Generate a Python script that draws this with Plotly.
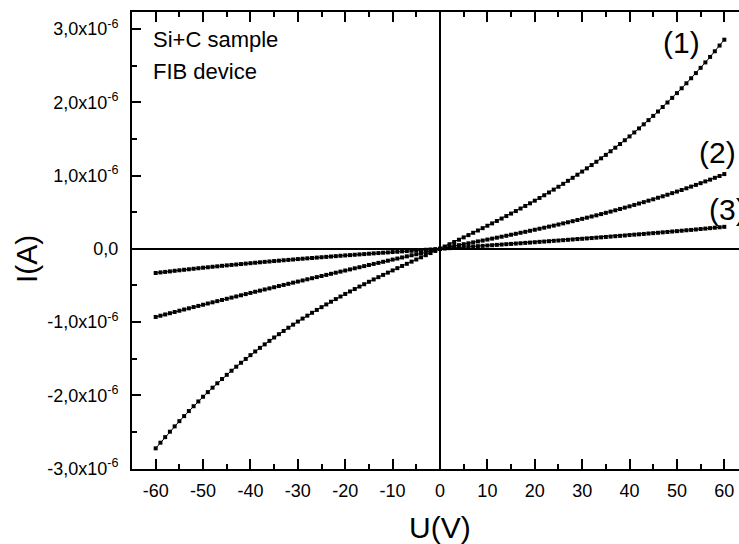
import plotly.graph_objects as go

# Bias voltage sweep (V)
U_volts = list(range(-60, 61))

# Currents in microamps (-60 V ... +60 V, step 1 V)
I1_uA = [
    -2.723, -2.646, -2.570, -2.496, -2.423, -2.352, -2.283, -2.214, -2.148, -2.083,
    -2.019, -1.956, -1.895, -1.835, -1.777, -1.720, -1.664, -1.609, -1.555, -1.503,
    -1.451, -1.401, -1.352, -1.304, -1.256, -1.210, -1.165, -1.121, -1.077, -1.035,
    -0.993, -0.952, -0.912, -0.873, -0.834, -0.796, -0.759, -0.722, -0.686, -0.651,
    -0.616, -0.582, -0.549, -0.515, -0.483, -0.450, -0.418, -0.387, -0.356, -0.325,
    -0.295, -0.264, -0.234, -0.205, -0.175, -0.146, -0.116, -0.087, -0.058, -0.029,
    0.000,
    0.031, 0.062, 0.093, 0.124, 0.156, 0.187, 0.219, 0.250, 0.282, 0.315,
    0.347, 0.380, 0.413, 0.447, 0.481, 0.515, 0.550, 0.585, 0.621, 0.657,
    0.694, 0.731, 0.769, 0.808, 0.847, 0.887, 0.928, 0.969, 1.011, 1.054,
    1.098, 1.143, 1.188, 1.235, 1.282, 1.331, 1.380, 1.430, 1.482, 1.534,
    1.588, 1.643, 1.699, 1.756, 1.814, 1.874, 1.935, 1.997, 2.060, 2.125,
    2.191, 2.259, 2.328, 2.398, 2.470, 2.544, 2.619, 2.696, 2.774, 2.854,
]

I2_uA = [
    -0.930, -0.913, -0.896, -0.879, -0.862, -0.845, -0.828, -0.812, -0.795, -0.779,
    -0.763, -0.746, -0.730, -0.714, -0.698, -0.682, -0.666, -0.650, -0.634, -0.618,
    -0.602, -0.586, -0.571, -0.555, -0.540, -0.524, -0.508, -0.493, -0.478, -0.462,
    -0.447, -0.432, -0.416, -0.401, -0.386, -0.371, -0.356, -0.341, -0.326, -0.311,
    -0.296, -0.281, -0.266, -0.251, -0.236, -0.221, -0.206, -0.192, -0.177, -0.162,
    -0.147, -0.133, -0.118, -0.103, -0.088, -0.074, -0.059, -0.044, -0.029, -0.015,
    0.000,
    0.013, 0.025, 0.038, 0.050, 0.063, 0.075, 0.088, 0.101, 0.113, 0.126,
    0.139, 0.152, 0.165, 0.178, 0.192, 0.205, 0.219, 0.232, 0.246, 0.260,
    0.274, 0.288, 0.303, 0.317, 0.332, 0.347, 0.362, 0.377, 0.393, 0.409,
    0.425, 0.441, 0.457, 0.474, 0.491, 0.508, 0.526, 0.544, 0.562, 0.580,
    0.599, 0.618, 0.637, 0.657, 0.676, 0.697, 0.717, 0.738, 0.760, 0.781,
    0.803, 0.826, 0.849, 0.872, 0.896, 0.920, 0.944, 0.969, 0.994, 1.020,
]

I3_uA = [
    -0.330, -0.322, -0.315, -0.308, -0.300, -0.293, -0.286, -0.279, -0.272, -0.265,
    -0.258, -0.252, -0.245, -0.239, -0.232, -0.226, -0.220, -0.214, -0.208, -0.202,
    -0.196, -0.190, -0.184, -0.178, -0.173, -0.167, -0.162, -0.156, -0.151, -0.146,
    -0.140, -0.135, -0.130, -0.125, -0.120, -0.115, -0.110, -0.105, -0.100, -0.095,
    -0.090, -0.086, -0.081, -0.076, -0.072, -0.067, -0.062, -0.058, -0.053, -0.049,
    -0.044, -0.040, -0.035, -0.031, -0.027, -0.022, -0.018, -0.013, -0.009, -0.004,
    0.000,
    0.004, 0.009, 0.013, 0.018, 0.022, 0.027, 0.031, 0.036, 0.040, 0.045,
    0.049, 0.054, 0.058, 0.063, 0.067, 0.072, 0.076, 0.081, 0.085, 0.090,
    0.095, 0.099, 0.104, 0.109, 0.113, 0.118, 0.123, 0.128, 0.133, 0.137,
    0.142, 0.147, 0.152, 0.157, 0.162, 0.167, 0.172, 0.177, 0.182, 0.188,
    0.193, 0.198, 0.203, 0.209, 0.214, 0.219, 0.225, 0.230, 0.236, 0.241,
    0.247, 0.253, 0.258, 0.264, 0.270, 0.276, 0.282, 0.288, 0.294, 0.300,
]

series_labels = ["(1)", "(2)", "(3)"]

x_tick_vals = [-60, -50, -40, -30, -20, -10, 0, 10, 20, 30, 40, 50, 60]
x_tick_text = ["-60", "-50", "-40", "-30", "-20", "-10", "0", "10", "20", "30", "40", "50", "60"]
y_tick_vals = [-3e-6, -2e-6, -1e-6, 0, 1e-6, 2e-6, 3e-6]
y_tick_text = ["-3,0x10<sup>-6</sup>", "-2,0x10<sup>-6</sup>", "-1,0x10<sup>-6</sup>", "0,0",
               "1,0x10<sup>-6</sup>", "2,0x10<sup>-6</sup>", "3,0x10<sup>-6</sup>"]

FONT = "Liberation Sans, Arial, Helvetica, sans-serif"
W, H = 739, 544
ML, MR, MT, MB = 132, 0, 12, 75
PW, PH = W - ML - MR, H - MT - MB


def px(x):
    return (x - ML) / PW


def py(y):
    return (H - MB - y) / PH


fig = go.Figure()
for ivals in (I1_uA, I2_uA, I3_uA):
    fig.add_trace(go.Scatter(
        x=U_volts,
        y=[v * 1e-6 for v in ivals],
        mode="lines+markers",
        line=dict(color="black", width=1),
        marker=dict(symbol="square", size=4, color="black", line=dict(width=0)),
        showlegend=False,
        hoverinfo="skip",
    ))

annotations = [
    dict(text="Si+C sample", x=px(151), y=py(39), xanchor="left", yanchor="middle",
         font=dict(size=22)),
    dict(text="FIB device", x=px(151), y=py(71.5), xanchor="left", yanchor="middle",
         font=dict(size=22)),
    dict(text=series_labels[0], x=px(681), y=py(43), xanchor="center", yanchor="middle",
         font=dict(size=30)),
    dict(text=series_labels[1], x=px(717.5), y=py(152), xanchor="center", yanchor="middle",
         font=dict(size=30)),
    dict(text=series_labels[2], x=px(727.5), y=py(209), xanchor="center", yanchor="middle",
         font=dict(size=30)),
    dict(text="U(V)", x=px(440), y=py(527), xanchor="center", yanchor="middle",
         font=dict(size=30)),
    dict(text="I(A)", x=px(26), y=py(259), xanchor="center", yanchor="middle",
         textangle=-90, font=dict(size=30)),
]
for a in annotations:
    a.update(xref="paper", yref="paper", showarrow=False)
    a["font"].update(family=FONT, color="black")

fig.update_layout(
    width=W, height=H,
    margin=dict(l=ML, r=MR, t=MT, b=MB, pad=0),
    paper_bgcolor="white", plot_bgcolor="white",
    font=dict(family=FONT, color="black", size=18),
    annotations=annotations,
)

fig.update_xaxes(
    range=[-65, 63.1],
    tickmode="array", tickvals=x_tick_vals, ticktext=x_tick_text,
    ticks="inside", ticklen=10, tickwidth=2, tickcolor="black",
    minor=dict(ticks="inside", ticklen=5, tickwidth=2, tickcolor="black",
               tickmode="linear", tick0=-55, dtick=10),
    showline=True, linecolor="black", linewidth=2, mirror="ticks",
    showgrid=False,
    zeroline=True, zerolinecolor="black", zerolinewidth=2,
    tickfont=dict(size=18, family=FONT, color="black"),
    ticklabelstandoff=4,
)

fig.update_yaxes(
    range=[-3.005e-6, 3.232e-6],
    tickmode="array", tickvals=y_tick_vals, ticktext=y_tick_text,
    ticks="inside", ticklen=9, tickwidth=2, tickcolor="black",
    minor=dict(ticks="inside", ticklen=5, tickwidth=2, tickcolor="black",
               tickmode="linear", tick0=-2.5e-6, dtick=1e-6),
    showline=True, linecolor="black", linewidth=2, mirror=False,
    showgrid=False,
    zeroline=True, zerolinecolor="black", zerolinewidth=2,
    tickfont=dict(size=18, family=FONT, color="black"),
    ticklabelstandoff=8,
)

fig.write_html(
    "out.html",
    config={"displayModeBar": False},
    post_script="document.body.style.margin='0';document.body.style.overflow='hidden';",
)
